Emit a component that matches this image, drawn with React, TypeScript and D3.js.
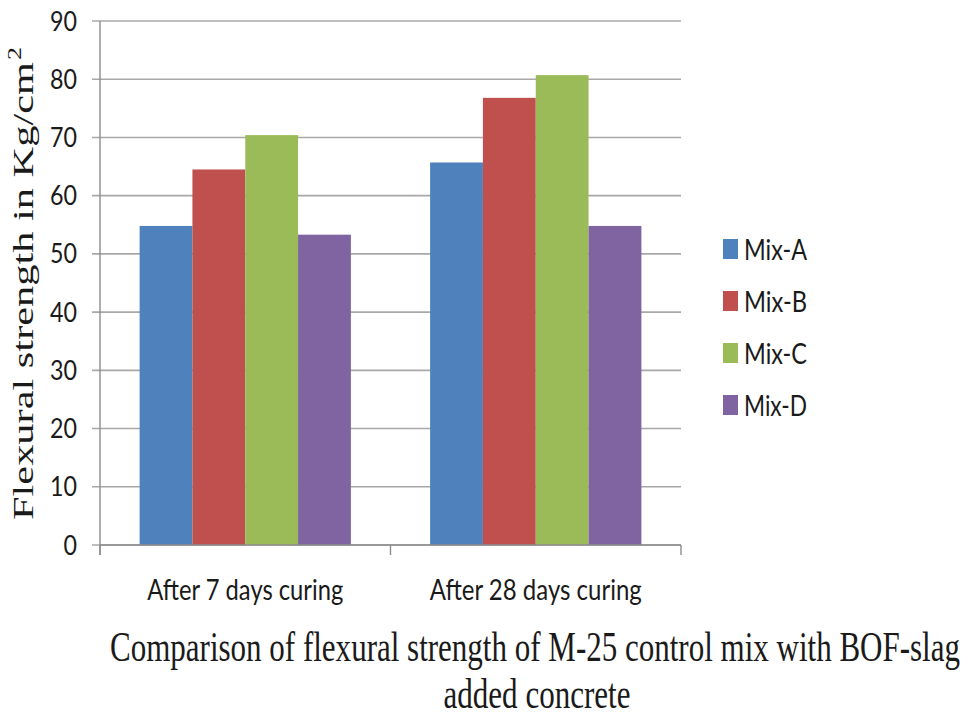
import React from "react";
import * as d3 from "d3";

// Curing periods (x categories)
const categories = ["After 7 days curing", "After 28 days curing"];
// Mix series
const seriesNames = ["Mix-A", "Mix-B", "Mix-C", "Mix-D"];
// Flexural strength (Kg/cm²) per series, one value per curing period
const mixA = [54.8, 65.7];
const mixB = [64.5, 76.8];
const mixC = [70.4, 80.7];
const mixD = [53.3, 54.8];
const yTicks = [0, 10, 20, 30, 40, 50, 60, 70, 80, 90];

const seriesValues = [mixA, mixB, mixC, mixD];
const colors = ["#4F81BD", "#C0504D", "#9BBB59", "#8064A2"];

const W = 971;
const H = 717;
const plot = { left: 100, right: 681, top: 21, bottom: 545 };

const sans = "Lato, 'Open Sans', 'Liberation Sans', sans-serif";
const serif = "'Liberation Serif', 'DejaVu Serif', serif";
const textColor = "#1a1a1a";
const gridColor = "#a8a8a8";

export default function App() {
  const x0 = d3
    .scaleBand<string>()
    .domain(categories)
    .range([plot.left, plot.right])
    .paddingInner(0)
    .paddingOuter(0);
  const x1 = d3
    .scaleBand<string>()
    .domain(seriesNames)
    .range([0, x0.bandwidth()])
    .paddingInner(0)
    .paddingOuter(0.75);
  const y = d3.scaleLinear().domain([0, 90]).range([plot.bottom, plot.top]);

  const catEdges = [plot.left, ...categories.map((c) => (x0(c) as number) + x0.bandwidth())];
  const catLabelWidths = [196, 212];
  const legendRowY = d3.scalePoint<string>().domain(seriesNames).range([249, 405]);

  return (
    <svg
      width={W}
      height={H}
      viewBox={`0 0 ${W} ${H}`}
      style={{ position: "absolute", left: 0, top: 0, background: "#fff" }}
    >
      <rect x={0} y={0} width={W} height={H} fill="#fff" />

      {/* horizontal gridlines with left tick marks */}
      {yTicks.map((t) => (
        <line
          key={`g${t}`}
          x1={plot.left - 8}
          x2={plot.right}
          y1={y(t)}
          y2={y(t)}
          stroke={gridColor}
          strokeWidth={1.6}
        />
      ))}

      {/* y tick labels */}
      {yTicks.map((t) => (
        <text
          key={`t${t}`}
          x={77}
          y={y(t) + 9.5}
          textAnchor="end"
          fontFamily={sans}
          fontSize={26}
          fill={textColor}
          textLength={String(t).length * 13.5}
          lengthAdjust="spacingAndGlyphs"
        >
          {t}
        </text>
      ))}

      {/* bars */}
      {categories.map((c, ci) => (
        <g key={c} transform={`translate(${x0(c)},0)`}>
          {seriesNames.map((s, si) => {
            const v = seriesValues[si][ci];
            return (
              <rect
                key={s}
                x={x1(s)}
                y={y(v)}
                width={x1.bandwidth()}
                height={y(0) - y(v)}
                fill={colors[si]}
              />
            );
          })}
        </g>
      ))}

      {/* axes */}
      <line x1={plot.left} x2={plot.left} y1={plot.top} y2={plot.bottom + 10} stroke="#8c8c8c" strokeWidth={1.4} />
      <line x1={plot.left} x2={plot.right} y1={plot.bottom} y2={plot.bottom} stroke="#8c8c8c" strokeWidth={1.4} />
      {catEdges.map((xv, i) => (
        <line key={`ct${i}`} x1={xv} x2={xv} y1={plot.bottom} y2={plot.bottom + 10} stroke="#8c8c8c" strokeWidth={1.4} />
      ))}

      {/* category labels */}
      {categories.map((c, ci) => (
        <text
          key={`cl${c}`}
          x={(x0(c) as number) + x0.bandwidth() / 2}
          y={600}
          textAnchor="middle"
          fontFamily={sans}
          fontSize={28}
          fill={textColor}
          textLength={catLabelWidths[ci]}
          lengthAdjust="spacingAndGlyphs"
        >
          {c}
        </text>
      ))}

      {/* y axis title */}
      <g transform="translate(33,520) rotate(-90)">
        <text
          x={0}
          y={0}
          fontFamily={serif}
          fontSize={30}
          fill={textColor}
          textLength={458}
          lengthAdjust="spacingAndGlyphs"
        >
          Flexural strength in Kg/cm
        </text>
        <text x={460} y={-12} fontFamily={serif} fontSize={19} fill={textColor} textLength={13} lengthAdjust="spacingAndGlyphs">
          2
        </text>
      </g>

      {/* legend */}
      {seriesNames.map((s, si) => {
        const cy = legendRowY(s) as number;
        return (
          <g key={`lg${s}`}>
            <rect x={723} y={cy - 10} width={15} height={20} fill={colors[si]} />
            <text
              x={744}
              y={cy + 10.5}
              fontFamily={sans}
              fontSize={28}
              fill={textColor}
              textLength={63}
              lengthAdjust="spacingAndGlyphs"
            >
              {s}
            </text>
          </g>
        );
      })}

      {/* chart title, set in a tall condensed serif */}
      <g transform="translate(535,661) scale(1,1.5)">
        <text
          x={0}
          y={0}
          textAnchor="middle"
          fontFamily={serif}
          fontSize={28}
          fill={textColor}
          textLength={850}
          lengthAdjust="spacingAndGlyphs"
        >
          Comparison of flexural strength of M-25 control mix with BOF-slag
        </text>
      </g>
      <g transform="translate(537,708) scale(1,1.5)">
        <text
          x={0}
          y={0}
          textAnchor="middle"
          fontFamily={serif}
          fontSize={28}
          fill={textColor}
          textLength={187}
          lengthAdjust="spacingAndGlyphs"
        >
          added concrete
        </text>
      </g>
    </svg>
  );
}
